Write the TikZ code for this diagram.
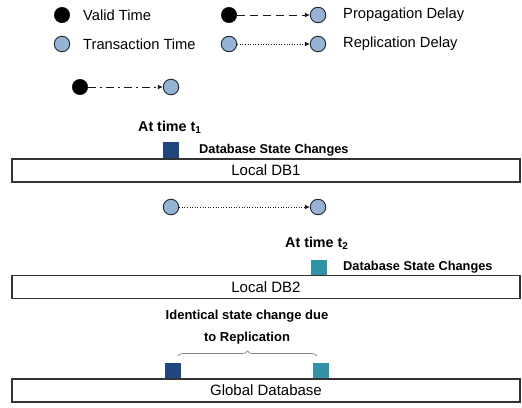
\documentclass[tikz,border=0pt]{standalone}
\usepackage{fontspec}
\setmainfont{Liberation Sans}
\usetikzlibrary{arrows.meta,decorations.pathreplacing}
\definecolor{dotblue}{HTML}{95B3D7}
\definecolor{darkbox}{HTML}{1F467F}
\definecolor{tealbox}{HTML}{3292A6}
\begin{document}
\begin{tikzpicture}[x=1pt,y=-1pt,
  vdot/.style={circle,fill=black,draw=black,minimum size=15.5pt,inner sep=0pt},
  tdot/.style={circle,fill=dotblue,draw=black!85,line width=0.9pt,minimum size=15.5pt,inner sep=0pt},
  lbl/.style={anchor=west,font=\fontsize{14.7}{17}\selectfont,inner sep=0pt},
  db/.style={draw=black!80,line width=1.1pt,minimum width=508pt,minimum height=23pt,inner sep=0pt,font=\fontsize{15}{18}\selectfont},
  blab/.style={font=\bfseries\fontsize{12.8}{15}\selectfont,inner sep=0pt,anchor=west},
  tlab/.style={font=\bfseries\fontsize{14.3}{17}\selectfont,inner sep=0pt,anchor=west},
  sq/.style={minimum size=16pt,inner sep=0pt},
  conn/.style={draw=black!90,line width=0.9pt,-{Latex[length=5pt,width=5pt]}},
  propline/.style={conn,dash pattern=on 8pt off 5pt},
  repline/.style={conn,dash pattern=on 1pt off 1.6pt},
  otherline/.style={conn,dash pattern=on 8pt off 4pt on 2pt off 4pt}
]
\useasboundingbox (0,0) rectangle (522,407);
% legend
\node[vdot] (lv) at (62,15) {};
\node[lbl] (lvt) at (83,15) {Valid Time};
\node[tdot] (lt) at (62,44) {};
\node[lbl] (ltt) at (83,44) {Transaction Time};
\node[vdot] (pa) at (229,15) {};
\node[tdot] (pb) at (318,15) {};
\draw[propline] (pa.east) -- (pb.west);
\node[lbl] (pt) at (343,15) {Propagation Delay};
\node[tdot] (ra) at (229,44) {};
\node[tdot] (rb) at (318,44) {};
\draw[repline] (ra.east) -- (rb.west);
\node[lbl] (rt) at (343,44) {Replication Delay};
\node[vdot] (oa) at (80,87) {};
\node[tdot] (ob) at (171,87) {};
\draw[otherline] (oa.east) -- (ob.west);
% Local DB1
\node[tlab] (t1) at (138,127) {At time t\textsubscript{1}};
\node[sq,fill=darkbox] (s1) at (171,150) {};
\node[blab] (c1) at (199,150) {Database State Changes};
\node[db] (db1) at (266,170.5) {Local DB1};
% replication
\node[tdot] (ma) at (171,207) {};
\node[tdot] (mb) at (318,207) {};
\draw[repline] (ma.east) -- (mb.west);
% Local DB2
\node[tlab] (t2) at (285,243) {At time t\textsubscript{2}};
\node[sq,fill=tealbox] (s2) at (318.5,267.5) {};
\node[blab] (c2) at (343,267) {Database State Changes};
\node[db] (db2) at (266,287) {Local DB2};
% Global
\node[font=\bfseries\fontsize{13}{22}\selectfont,align=center,inner sep=0pt] (id) at (247,327) {Identical state change due\\to Replication};
\node[sq,fill=darkbox] (g1) at (172.5,370.5) {};
\node[sq,fill=tealbox] (g2) at (320.5,370.5) {};
\draw[gray,line width=0.7pt,decorate,decoration={brace,amplitude=5pt}] (178,356) -- (317,356);
\node[db] (gdb) at (266,390.5) {Global Database};
\end{tikzpicture}
\end{document}
